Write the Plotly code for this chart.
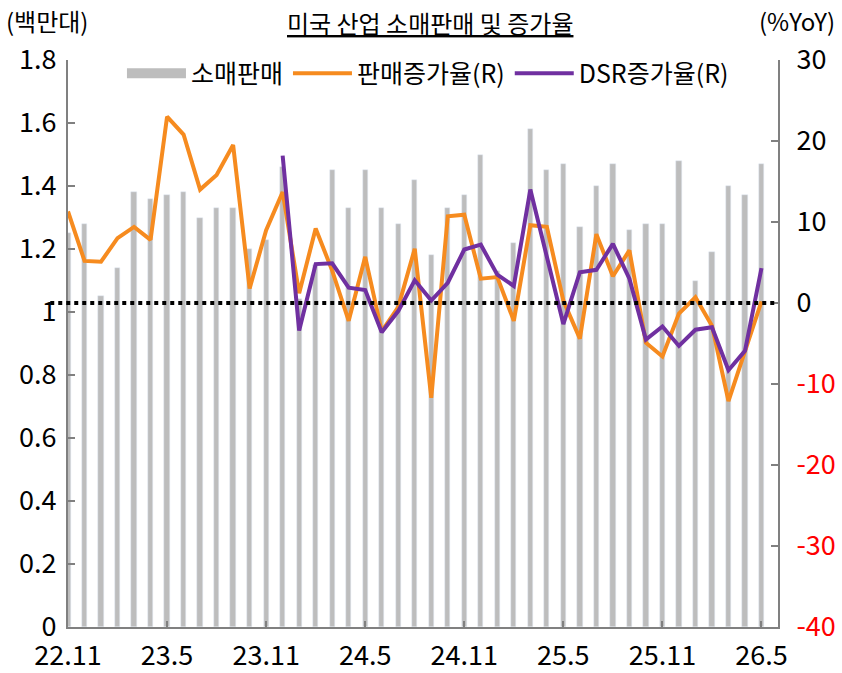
import plotly.graph_objects as go

# months 22.11 .. 26.5
months = [f"{y}.{m}" for y, ms in ((22, [11, 12]), (23, range(1, 13)), (24, range(1, 13)),
                                   (25, range(1, 13)), (26, range(1, 6))) for m in ms]
tick_labels = ["22.11", "23.5", "23.11", "24.5", "24.11", "25.5", "25.11", "26.5"]

sales = [1.25, 1.28, 1.05, 1.14, 1.38, 1.36, 1.37, 1.38, 1.30, 1.33, 1.33, 1.20, 1.23, 1.46,
         1.04, 1.15, 1.45, 1.33, 1.45, 1.33, 1.28, 1.42, 1.18, 1.33, 1.37, 1.50, 1.13, 1.22,
         1.58, 1.45, 1.47, 1.27, 1.40, 1.47, 1.26, 1.28, 1.28, 1.48, 1.10, 1.19, 1.40, 1.37, 1.47]

sales_yoy = [11.3, 5.2, 5.1, 8.0, 9.4, 7.8, 23.0, 20.8, 14.0, 15.8, 19.5, 1.8, 9.0, 13.7,
             1.2, 9.2, 4.0, -2.2, 5.7, -3.5, -0.5, 6.7, -11.7, 10.7, 10.9, 3.0, 3.2, -2.2,
             9.6, 9.4, 0.3, -4.4, 8.5, 3.3, 6.5, -4.9, -6.6, -1.3, 0.7, -2.8, -12.1, -6.1, 0.2]

dsr_yoy = [None] * 13 + [18.2, -3.4, 4.8, 4.9, 1.9, 1.6, -3.6, -1.0, 2.8, 0.3, 2.5, 6.6, 7.2,
                         3.5, 2.1, 14.0, 5.7, -2.6, 3.8, 4.1, 7.3, 3.0, -4.5, -2.9, -5.3,
                         -3.3, -3.0, -8.3, -5.9, 4.3]

left_ticks = [0, 0.2, 0.4, 0.6, 0.8, 1, 1.2, 1.4, 1.6, 1.8]
right_ticks = [-40, -30, -20, -10, 0, 10, 20, 30]

BAR = "#BDBDBD"
ORANGE = "#F68B1F"
PURPLE = "#7030A0"
AXIS = "#808080"
FONT = "Noto Sans CJK KR"
TICK_SIZE = 27
TEXT_SIZE = 24

idx = list(range(len(months)))
tick_pos = [months.index(t) for t in tick_labels]

fig = go.Figure()
fig.add_trace(go.Bar(x=idx, y=sales, marker_color=BAR, width=0.32, showlegend=False))
# legend swatch for bars (wide gray block)
fig.add_trace(go.Scatter(x=[None], y=[None], mode="lines", name="소매판매",
                         line=dict(color=BAR, width=12)))
fig.add_trace(go.Scatter(x=idx, y=sales_yoy, mode="lines", name="판매증가율(R)", yaxis="y2",
                         line=dict(color=ORANGE, width=4)))
fig.add_trace(go.Scatter(x=idx, y=dsr_yoy, mode="lines", name="DSR증가율(R)", yaxis="y2",
                         line=dict(color=PURPLE, width=4)))

fig.add_shape(type="line", xref="paper", yref="y2", x0=-0.025, x1=1, y0=0, y1=0,
              line=dict(color="black", width=4, dash="dot"))

right_text = [f"<span style='color:#FF0000'>-{abs(v)}</span>" if v < 0 else str(v) for v in right_ticks]

axis_common = dict(showgrid=False, zeroline=False, showline=True, linecolor=AXIS, linewidth=2,
                   ticks="inside", tickcolor=AXIS, tickwidth=2, tickfont=dict(size=TICK_SIZE))

fig.update_layout(
    width=842, height=673,
    paper_bgcolor="white", plot_bgcolor="white",
    margin=dict(l=68, r=64, t=60, b=46, autoexpand=False),
    font=dict(family=FONT, size=TEXT_SIZE, color="black"),
    bargap=0,
    xaxis=dict(range=[0, 43], tickvals=tick_pos, ticktext=tick_labels, ticklen=6,
               ticklabelstandoff=4, **axis_common),
    yaxis=dict(range=[0, 1.8], tickvals=left_ticks, ticklen=7, ticklabelstandoff=4,
               **axis_common),
    yaxis2=dict(range=[-40, 30], tickvals=right_ticks, ticktext=right_text, overlaying="y",
                side="right", ticklen=7, ticklabelstandoff=11, **axis_common),
    legend=dict(orientation="h", x=0.076, y=0.976, xanchor="left", yanchor="middle",
                bgcolor="rgba(0,0,0,0)", font=dict(size=25), itemwidth=59),
    annotations=[
        dict(text="<u>미국 산업 소매판매 및 증가율</u>", xref="paper", yref="paper",
             x=0.51, y=1.067, xanchor="center", yanchor="middle", showarrow=False),
        dict(text="(백만대)", xref="paper", yref="paper", x=-0.09, y=1.07,
             xanchor="left", yanchor="middle", showarrow=False),
        dict(text="(%YoY)", xref="paper", yref="paper", x=1.083, y=1.07,
             xanchor="right", yanchor="middle", showarrow=False),
    ],
)

# drop the default page margin so the 842x673 figure fills the window exactly
fig.write_html("out.html", config={"displayModeBar": False},
               post_script="document.body.style.margin='0';document.body.style.overflow='hidden';")
